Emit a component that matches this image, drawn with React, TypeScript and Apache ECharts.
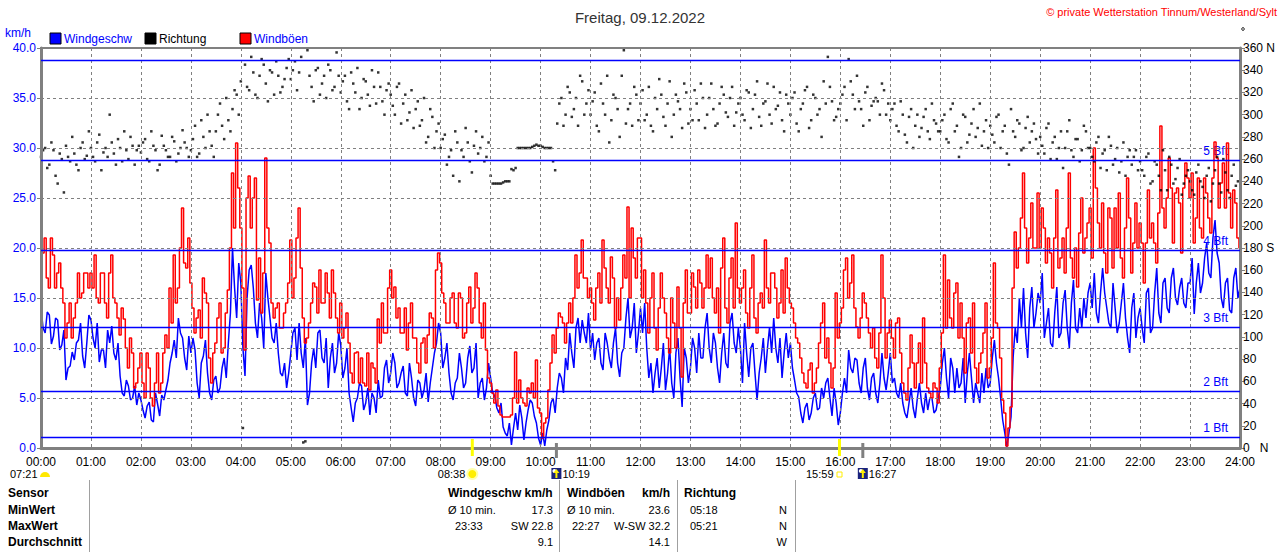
import React, { useEffect, useRef } from "react";
import * as echarts from "echarts";

const FONT = '"Liberation Sans", Arial, Helvetica, sans-serif';
const TITLE = "Freitag, 09.12.2022";
const COPYRIGHT = "© private Wetterstation Tinnum/Westerland/Sylt";
const STEP = 5; // minutes between samples

// Windgeschwindigkeit km/h at hh:00, hh:05, ... (last value = 24:00)
const windSpeed: number[] = [
  14.0, 11.5, 13.3, 11.2, 12.8, 10.3, 6.8, 8.2, 8.8, 10.8, 9.2, 10.5, // 00
  12.8, 10.0, 8.6, 9.8, 11.8, 12.2, 8.8, 7.2, 5.2, 6.2, 5.0, 4.3, // 01
  4.8, 3.0, 4.6, 2.6, 4.4, 5.3, 5.8, 8.5, 10.8, 13.0, 11.0, 7.8, // 02
  9.5, 9.8, 5.0, 9.2, 7.5, 4.8, 7.2, 6.0, 9.0, 10.5, 20.0, 13.0, // 03
  16.5, 7.2, 17.8, 16.0, 11.0, 13.0, 17.5, 13.0, 10.5, 9.5, 7.2, 6.0, // 04
  9.5, 12.0, 12.5, 8.0, 4.3, 8.5, 8.0, 11.8, 8.5, 6.0, 10.5, 8.5, // 05
  10.3, 8.0, 5.5, 2.6, 5.0, 6.2, 4.5, 3.3, 5.0, 6.8, 5.2, 8.8, // 06
  7.5, 8.5, 6.5, 8.2, 5.2, 7.0, 4.2, 6.5, 5.8, 4.6, 8.0, 10.5, // 07
  11.5, 9.0, 7.5, 4.8, 7.0, 8.0, 6.5, 10.2, 8.0, 5.0, 7.0, 6.0, // 08
  7.0, 5.2, 3.5, 2.1, 1.2, 0.3, 3.5, 4.3, 0.8, 3.8, 4.5, 2.5, // 09
  0.3, 0.2, 2.8, 5.0, 6.0, 7.0, 9.0, 11.5, 8.0, 13.0, 12.8, 10.5, // 10
  9.8, 8.8, 11.0, 7.8, 10.5, 8.0, 12.0, 7.1, 10.0, 15.0, 12.0, 9.5, // 11
  14.0, 14.5, 7.0, 5.5, 9.0, 8.0, 5.8, 10.0, 5.0, 11.0, 4.1, 9.0, // 12
  8.0, 10.0, 11.5, 9.0, 13.5, 8.5, 10.5, 6.5, 11.5, 8.0, 13.5, 9.5, // 13
  10.0, 12.5, 7.1, 10.5, 4.8, 9.0, 7.5, 12.1, 13.0, 8.5, 7.0, 11.5, // 14
  10.5, 6.8, 5.1, 2.5, 4.5, 3.5, 5.5, 4.0, 5.0, 7.0, 3.2, 4.5, // 15
  3.5, 7.0, 9.8, 7.5, 8.8, 5.5, 9.0, 4.8, 7.5, 4.5, 9.5, 5.8, // 16
  9.5, 7.0, 5.0, 4.5, 3.0, 6.0, 3.0, 6.5, 3.5, 3.8, 5.0, 3.8, // 17
  6.0, 10.0, 5.0, 8.0, 8.0, 6.5, 4.5, 9.5, 4.5, 5.5, 7.5, 8.0, // 18
  6.5, 10.8, 7.0, 2.8, 0.1, 3.1, 12.0, 15.0, 16.0, 9.0, 16.1, 13.5, // 19
  14.5, 11.0, 14.0, 10.1, 16.1, 11.5, 15.8, 10.0, 16.8, 11.5, 12.0, 13.0, // 20
  16.5, 17.5, 12.5, 18.0, 14.0, 12.0, 14.0, 12.5, 16.5, 11.0, 14.0, 11.0, // 21
  14.0, 10.5, 16.0, 12.0, 18.0, 12.5, 17.0, 13.5, 18.0, 14.3, 17.0, 14.0, // 22
  16.5, 13.4, 18.5, 16.5, 20.5, 17.0, 22.8, 18.5, 14.0, 17.0, 13.5, 18.0, // 23
  16.0,
];

// Windgeschwindigkeit km/h at hh:02.5, hh:07.5, ...
const windSpeedMid: number[] = [
  12.0, 13.6, 10.4, 13.0, 9.8, 11.8, 8.0, 9.6, 10.5, 12.5, 8.0, 13.3, // 00
  11.0, 12.5, 9.8, 8.0, 10.5, 9.5, 10.5, 5.5, 6.8, 4.8, 6.2, 5.5, // 01
  3.8, 4.2, 2.8, 5.5, 3.2, 4.8, 6.8, 9.5, 9.0, 11.5, 9.0, 11.2, // 02
  11.0, 6.5, 8.5, 10.8, 5.5, 6.8, 5.5, 8.0, 7.0, 13.5, 16.0, 18.5, // 03
  10.0, 15.0, 18.3, 12.5, 14.5, 10.0, 15.0, 11.0, 12.5, 7.5, 8.5, 7.5, // 04
  11.5, 8.8, 9.5, 11.0, 5.5, 10.0, 11.5, 9.0, 11.0, 9.0, 7.5, 11.5, // 05
  7.0, 10.0, 4.0, 4.5, 6.5, 3.8, 6.0, 5.5, 3.5, 5.0, 8.0, 6.5, // 06
  9.5, 6.0, 7.5, 5.5, 8.5, 5.0, 6.8, 5.0, 7.5, 6.5, 9.5, 12.5, // 07
  8.0, 10.5, 5.5, 6.5, 9.5, 6.0, 9.0, 7.5, 10.5, 6.5, 4.8, 8.5, // 08
  5.5, 4.0, 4.5, 1.5, 2.5, 2.0, 1.8, 3.0, 2.5, 4.8, 3.2, 1.0, // 09
  1.5, 1.8, 4.5, 3.5, 7.5, 5.5, 7.8, 9.5, 12.0, 10.5, 11.5, 13.5, // 10
  11.5, 10.5, 8.5, 11.5, 9.0, 10.5, 8.5, 9.5, 13.0, 11.0, 14.5, 11.5, // 11
  11.5, 10.0, 8.5, 7.5, 6.0, 10.5, 7.5, 6.5, 9.5, 7.0, 10.0, 6.5, // 12
  11.0, 7.5, 9.0, 12.0, 10.0, 11.5, 8.0, 9.5, 8.5, 12.5, 10.5, 12.0, // 13
  6.5, 9.5, 10.0, 7.5, 7.5, 11.0, 10.0, 9.5, 10.0, 11.0, 9.5, 9.0, // 14
  8.0, 5.5, 3.5, 4.0, 2.8, 5.0, 3.8, 6.0, 6.5, 5.0, 6.0, 2.3, // 15
  5.5, 5.5, 8.0, 9.0, 6.5, 8.0, 6.0, 7.0, 5.5, 6.5, 7.0, 7.5, // 16
  6.5, 5.5, 6.5, 3.5, 4.5, 4.0, 5.0, 4.5, 5.5, 5.0, 3.5, 5.0, // 17
  8.5, 7.0, 9.0, 5.5, 6.0, 9.0, 7.5, 7.0, 6.5, 4.5, 5.5, 6.0, // 18
  9.0, 8.5, 5.0, 1.5, 1.5, 9.0, 10.5, 12.0, 11.5, 14.0, 12.0, 15.5, // 19
  17.5, 12.5, 10.5, 13.5, 11.0, 14.5, 12.0, 14.5, 12.0, 14.0, 15.0, 15.5, // 20
  14.0, 13.5, 15.5, 15.5, 12.5, 16.5, 11.5, 14.5, 13.0, 9.5, 15.5, 13.0, // 21
  12.0, 15.5, 11.5, 15.5, 13.5, 16.5, 14.0, 17.0, 15.0, 16.0, 14.5, 16.5, // 22
  19.0, 16.5, 15.5, 19.0, 17.5, 21.0, 19.5, 15.0, 16.5, 13.8, 17.0, 15.0, // 23
];

// Windböen km/h at hh:00, hh:05, ... (last value = 24:00)
const windGust: number[] = [
  17.5, 21.0, 16.0, 19.3, 17.5, 16.0, 11.0, 14.5, 13.0, 17.5, 15.5, 17.5, // 00
  17.5, 19.3, 14.5, 17.5, 13.0, 19.3, 14.5, 11.3, 12.9, 8.0, 9.5, 6.5, // 01
  9.5, 5.0, 8.0, 4.2, 9.5, 6.5, 11.3, 16.0, 19.3, 16.0, 24.0, 18.0, // 02
  16.5, 11.5, 13.8, 17.0, 14.5, 6.5, 10.5, 14.5, 10.0, 15.8, 27.5, 30.5, // 03
  22.0, 9.8, 27.2, 25.0, 14.8, 13.5, 29.0, 20.5, 13.0, 14.5, 12.0, 14.5, // 04
  20.8, 17.0, 24.0, 13.0, 11.0, 14.5, 16.1, 17.8, 14.5, 15.5, 17.8, 13.0, // 05
  14.5, 12.0, 10.5, 6.5, 9.6, 9.0, 6.2, 5.8, 8.0, 12.9, 14.5, 11.5, // 06
  17.8, 16.1, 14.0, 11.5, 9.8, 14.5, 11.0, 7.5, 11.0, 11.3, 13.0, 17.8, // 07
  18.5, 14.5, 12.5, 15.5, 12.0, 15.0, 11.5, 16.1, 14.0, 16.0, 11.0, 9.8, // 08
  6.5, 4.5, 4.2, 3.1, 3.1, 3.3, 9.6, 6.8, 4.5, 6.0, 6.5, 8.8, // 09
  3.5, 2.5, 5.8, 11.3, 12.0, 13.1, 10.5, 14.5, 15.0, 16.0, 20.8, 17.0, // 10
  16.0, 12.8, 17.5, 20.8, 16.0, 19.1, 12.0, 12.8, 19.3, 24.1, 22.0, 17.0, // 11
  21.0, 17.8, 11.5, 17.5, 9.8, 17.5, 13.5, 9.5, 12.5, 16.1, 7.1, 17.8, // 12
  13.5, 16.1, 17.8, 14.0, 19.3, 19.0, 13.5, 11.5, 21.0, 12.5, 19.0, 22.5, // 13
  14.5, 17.8, 12.0, 19.3, 11.5, 15.5, 20.8, 14.5, 17.5, 13.0, 17.8, 19.0, // 14
  14.5, 12.5, 10.5, 7.5, 6.0, 8.5, 6.5, 10.5, 14.5, 11.0, 6.0, 15.5, // 15
  12.5, 17.8, 15.0, 19.3, 12.1, 13.0, 14.5, 11.5, 12.0, 8.0, 19.3, 9.0, // 16
  12.8, 9.0, 13.0, 6.5, 4.8, 11.3, 6.0, 10.5, 13.0, 6.0, 5.0, 6.0, // 17
  8.0, 19.3, 16.8, 12.0, 16.5, 14.5, 7.5, 13.0, 14.5, 6.5, 9.5, 14.5, // 18
  8.0, 18.5, 12.0, 4.8, 0.2, 4.1, 21.6, 20.0, 27.5, 18.5, 24.5, 20.0, // 19
  20.0, 22.0, 21.0, 16.0, 25.8, 19.0, 17.5, 27.5, 17.0, 16.1, 25.0, 21.0, // 20
  24.0, 30.0, 22.5, 24.5, 17.5, 23.0, 24.0, 25.5, 17.0, 27.0, 17.5, 24.5, // 21
  22.5, 16.5, 25.8, 22.5, 18.5, 32.2, 22.0, 29.0, 20.5, 26.0, 19.5, 28.5, // 22
  25.0, 20.5, 27.0, 21.0, 25.5, 21.5, 30.6, 24.0, 28.5, 30.5, 22.0, 24.5, // 23
  20.0,
];

// Windböen km/h at hh:02.5, hh:07.5, ...
const windGustMid: number[] = [
  19.5, 17.0, 21.0, 16.0, 18.5, 14.5, 12.5, 11.0, 14.5, 15.0, 17.5, 16.0, // 00
  16.0, 15.0, 17.5, 14.5, 17.5, 15.0, 13.0, 14.0, 10.0, 11.0, 6.0, 8.0, // 01
  6.5, 9.5, 5.0, 6.5, 5.5, 9.5, 10.0, 12.5, 14.5, 20.0, 18.5, 21.0, // 02
  14.0, 13.0, 11.0, 15.5, 9.0, 9.5, 13.0, 9.5, 13.5, 20.0, 22.0, 26.0, // 03
  16.0, 25.0, 22.0, 27.0, 19.0, 17.5, 22.0, 14.5, 14.0, 12.0, 13.5, 16.5, // 04
  15.0, 21.0, 18.0, 10.5, 12.5, 16.5, 13.5, 14.5, 17.5, 13.0, 15.5, 11.5, // 05
  11.0, 13.5, 7.5, 9.5, 6.5, 6.5, 9.5, 8.5, 6.5, 10.5, 11.5, 16.0, // 06
  15.0, 13.0, 11.5, 14.0, 12.5, 11.0, 8.5, 10.5, 8.5, 13.5, 10.0, 19.5, // 07
  15.5, 12.5, 15.0, 12.5, 15.5, 11.0, 14.5, 12.5, 17.5, 12.5, 14.5, 7.0, // 08
  5.5, 5.8, 3.3, 3.1, 3.1, 5.0, 4.5, 5.0, 4.2, 5.5, 5.0, 4.0, // 09
  1.0, 3.0, 8.5, 9.5, 13.5, 12.5, 12.5, 12.5, 19.3, 17.5, 17.0, 15.0, // 10
  14.5, 16.0, 14.5, 18.0, 14.5, 17.0, 15.0, 16.0, 17.0, 15.0, 19.0, 21.0, // 11
  15.0, 14.5, 15.0, 12.0, 14.0, 15.0, 11.0, 15.0, 10.0, 12.0, 14.5, 13.5, // 12
  17.5, 14.0, 16.5, 16.0, 16.0, 15.0, 16.0, 18.0, 14.0, 17.0, 14.0, 16.0, // 13
  16.0, 13.5, 16.0, 13.0, 14.5, 14.0, 16.0, 17.5, 16.0, 14.5, 13.5, 16.0, // 14
  14.0, 11.0, 9.0, 6.5, 7.8, 5.5, 8.0, 12.5, 9.0, 8.5, 8.0, 11.0, // 15
  14.0, 19.0, 16.5, 14.0, 11.0, 15.5, 13.0, 10.0, 9.0, 11.5, 15.0, 11.5, // 16
  11.0, 12.5, 9.5, 5.5, 8.0, 8.5, 8.5, 6.5, 8.5, 5.5, 6.5, 4.5, // 17
  11.5, 12.0, 13.0, 15.5, 11.0, 11.0, 12.5, 9.5, 8.0, 8.5, 11.5, 7.0, // 18
  11.0, 12.5, 9.0, 3.5, 2.0, 16.0, 18.0, 23.0, 22.0, 21.0, 20.0, 25.5, // 19
  24.0, 18.5, 19.5, 21.0, 18.0, 21.0, 22.0, 19.0, 20.0, 21.5, 19.5, 22.5, // 20
  19.0, 26.0, 20.0, 19.5, 24.0, 18.0, 20.0, 19.0, 22.0, 23.0, 20.5, 20.0, // 21
  20.5, 20.5, 21.0, 20.5, 23.5, 24.0, 25.0, 26.0, 25.5, 24.5, 26.0, 27.0, // 22
  27.5, 23.0, 22.0, 27.0, 23.0, 27.0, 29.0, 26.5, 24.0, 25.5, 25.8, 21.0, // 23
];

// Richtung in Grad at hh:00, hh:05, ...
const windDir: number[] = [
  262, 270, 255, 268, 238, 260, 272, 258, 265, 250, 275, 263, // 00
  270, 258, 282, 266, 262, 275, 255, 270, 285, 260, 272, 268, // 01
  266, 278, 258, 272, 250, 281, 268, 262, 276, 265, 286, 270, // 02
  268, 290, 265, 280, 300, 272, 285, 310, 278, 295, 305, 318, // 03
  330, 345, 322, 338, 315, 350, 328, 340, 318, 335, 325, 342, // 04
  332, 348, 338, 5, 358, 325, 340, 318, 335, 345, 322, 356, // 05
  320, 335, 305, 328, 342, 315, 330, 308, 325, 338, 312, 322, // 06
  318, 300, 328, 310, 295, 322, 305, 290, 315, 280, 298, 285, // 07
  270, 282, 262, 245, 275, 268, 288, 258, 272, 265, 280, 262, // 08
  245, 238, 238, 239, 240, 251, 252, 270, 270, 270, 271, 273, // 09
  272, 270, 270, 258, 292, 315, 300, 320, 305, 290, 330, 310, // 10
  300, 320, 285, 310, 335, 295, 315, 280, 358, 305, 290, 318, // 11
  310, 295, 325, 285, 305, 318, 290, 330, 300, 312, 288, 320, // 12
  305, 322, 295, 315, 300, 328, 290, 310, 318, 298, 325, 302, // 13
  315, 295, 320, 305, 330, 290, 312, 300, 325, 308, 295, 318, // 14
  300, 320, 285, 310, 325, 295, 315, 305, 330, 352, 312, 298, // 15
  310, 325, 350, 318, 335, 305, 320, 295, 312, 312, 328, 300, // 16
  295, 310, 285, 300, 275, 305, 290, 280, 298, 285, 310, 292, // 17
  285, 300, 275, 310, 290, 270, 298, 282, 305, 288, 272, 295, // 18
  290, 275, 300, 285, 265, 305, 280, 292, 270, 298, 285, 278, // 19
  280, 265, 292, 275, 260, 285, 270, 295, 262, 278, 268, 285, // 20
  270, 258, 280, 265, 250, 272, 260, 248, 275, 262, 255, 268, // 21
  258, 245, 265, 240, 255, 232, 250, 262, 238, 252, 228, 245, // 22
  240, 228, 255, 235, 245, 222, 250, 238, 260, 232, 245, 236, // 23
];

// Richtung in Grad at hh:02.5, hh:07.5, ...
const windDirMid: number[] = [
  268, 252, 275, 245, 265, 230, 262, 280, 255, 270, 260, 285, // 00
  262, 275, 250, 270, 300, 265, 278, 258, 268, 280, 255, 272, // 01
  275, 260, 285, 268, 255, 272, 262, 280, 258, 270, 275, 262, // 02
  278, 262, 295, 270, 285, 262, 300, 290, 315, 285, 322, 300, // 03
  18, 325, 352, 318, 335, 345, 312, 338, 348, 320, 332, 350, // 04
  340, 322, 352, 6, 335, 312, 342, 328, 315, 340, 325, 335, // 05
  330, 312, 338, 320, 305, 332, 318, 340, 310, 325, 300, 328, // 06
  308, 325, 292, 318, 302, 288, 312, 295, 275, 305, 270, 292, // 07
  278, 255, 268, 285, 240, 262, 275, 248, 285, 270, 258, 275, // 08
  238, 238, 238, 240, 240, 250, 270, 270, 270, 270, 272, 272, // 09
  271, 270, 270, 250, 310, 290, 325, 298, 315, 335, 300, 322, // 10
  312, 290, 328, 300, 275, 318, 305, 335, 292, 310, 325, 295, // 11
  322, 300, 290, 315, 332, 298, 310, 280, 318, 305, 328, 292, // 12
  295, 310, 328, 288, 315, 305, 292, 325, 302, 315, 290, 310, // 13
  300, 322, 288, 318, 298, 310, 328, 292, 305, 320, 285, 310, // 14
  315, 292, 305, 322, 288, 318, 300, 280, 310, 325, 295, 305, // 15
  318, 295, 330, 305, 312, 290, 325, 308, 315, 300, 322, 310, // 16
  305, 290, 312, 282, 298, 270, 300, 288, 305, 278, 295, 285, // 17
  295, 278, 305, 285, 262, 300, 275, 292, 280, 310, 285, 270, // 18
  282, 298, 270, 290, 255, 285, 295, 268, 288, 275, 292, 265, // 19
  272, 288, 260, 280, 270, 252, 285, 268, 278, 258, 290, 270, // 20
  262, 275, 252, 268, 280, 255, 270, 258, 245, 268, 262, 250, // 21
  250, 262, 238, 258, 245, 268, 232, 255, 242, 260, 238, 250, // 22
  232, 248, 240, 225, 252, 238, 262, 230, 248, 225, 255, 240, // 23
];

// Beaufort thresholds in km/h
const beaufortLimits = [1.1, 5.7, 12.1, 19.8, 28.8, 38.8];
const beaufortLabels = ["1 Bft", "2 Bft", "3 Bft", "4 Bft", "5 Bft", ""];

const legendNames = ["Windgeschw", "Richtung", "Windböen"];
const legendColors = ["#0000ff", "#000000", "#ff0000"];
const legendTextColors = ["#0000ff", "#000000", "#0000ff"];

const dawnTime = "07:21";
const astroTimes = ["08:38", "10:19", "15:59", "16:27"];
const astroMinutes = [518, 619, 959, 987];
const astroKinds = ["sunrise", "moonset", "sunset", "moonrise"];

const tableRowLabels = ["Sensor", "MinWert", "MaxWert", "Durchschnitt"];
const speedHeader = "Windgeschw km/h";
const speedLeft = ["Ø 10 min.", "23:33", ""];
const speedRight = ["17.3", "SW 22.8", "9.1"];
const gustHeader = "Windböen";
const gustUnit = "km/h";
const gustLeft = ["Ø 10 min.", "22:27", ""];
const gustRight = ["23.6", "W-SW 32.2", "14.1"];
const dirHeader = "Richtung";
const dirLeft = ["05:18", "05:21", ""];
const dirRight = ["N", "N", "W"];

const BLUE = "#0000ff";
const RED = "#ff0000";
const GRAY = "#808080";

function hourLabel(v: number): string {
  const h = Math.round(v / 60);
  return (h < 10 ? "0" : "") + h + ":00";
}

function dirLabel(v: number): string {
  if (v === 360) return "360 N";
  if (v === 180) return "180 S";
  if (v === 0) return "0\u00a0\u00a0\u00a0N";
  return String(v);
}

function interleave(main: number[], mid: number[]): number[][] {
  const out: number[][] = [];
  main.forEach((v, i) => {
    out.push([i * STEP, v]);
    if (i < mid.length) out.push([i * STEP + STEP / 2, mid[i]]);
  });
  return out;
}

function buildOption() {
  const speedData = interleave(windSpeed, windSpeedMid);
  const gustData = interleave(windGust, windGustMid);
  const dirData = interleave(windDir, windDirMid);
  return {
    animation: false,
    backgroundColor: "#ffffff",
    textStyle: { fontFamily: FONT },
    title: {
      text: TITLE,
      left: "center",
      top: 5,
      textStyle: { fontSize: 15, fontWeight: "normal", color: "#333333", fontFamily: FONT },
    },
    grid: {
      left: 41,
      right: 40,
      top: 48,
      bottom: 104,
      show: true,
      borderColor: GRAY,
      borderWidth: 2,
      containLabel: false,
      outerBoundsMode: "none",
    },
    xAxis: {
      type: "value",
      min: 0,
      max: 1440,
      interval: 60,
      z: 6,
      axisLine: { show: true, onZero: false, lineStyle: { color: GRAY, width: 3 } },
      axisTick: { show: false },
      axisLabel: {
        formatter: hourLabel,
        color: "#000000",
        fontSize: 12,
        fontFamily: FONT,
        margin: 8,
        showMinLabel: true,
        showMaxLabel: true,
      },
      splitLine: { show: true, lineStyle: { color: GRAY, width: 1, type: [3, 3] } },
    },
    yAxis: [
      {
        type: "value",
        min: 0,
        max: 40,
        interval: 5,
        z: 6,
        axisLine: { show: true, onZero: false, lineStyle: { color: GRAY, width: 3 } },
        axisTick: { show: true, length: 4, lineStyle: { color: GRAY, width: 1 } },
        axisLabel: {
          formatter: (v: number) => v.toFixed(1),
          color: BLUE,
          fontSize: 12,
          fontFamily: FONT,
          margin: 5,
        },
        splitLine: { show: true, lineStyle: { color: GRAY, width: 1, type: [3, 3] } },
      },
      {
        type: "value",
        position: "right",
        min: 0,
        max: 360,
        interval: 20,
        z: 6,
        axisLine: { show: true, onZero: false, lineStyle: { color: GRAY, width: 3 } },
        axisTick: { show: true, length: 5, lineStyle: { color: GRAY, width: 1 } },
        axisLabel: {
          formatter: dirLabel,
          color: "#000000",
          fontSize: 12,
          fontFamily: FONT,
          margin: 3,
        },
        splitLine: { show: false },
      },
    ],
    series: [
      {
        name: "Windgeschw",
        type: "line",
        data: speedData,
        yAxisIndex: 0,
        showSymbol: false,
        symbol: "none",
        lineStyle: { color: BLUE, width: 1.5 },
        itemStyle: { color: BLUE },
        z: 3,
        silent: true,
      },
      {
        name: "Windböen",
        type: "line",
        step: "middle",
        data: gustData,
        yAxisIndex: 0,
        showSymbol: false,
        symbol: "none",
        lineStyle: { color: RED, width: 1.5 },
        itemStyle: { color: RED },
        z: 4,
        silent: true,
      },
      {
        name: "Richtung",
        type: "scatter",
        data: dirData,
        yAxisIndex: 1,
        symbol: "rect",
        symbolSize: 2.5,
        itemStyle: { color: "#000000" },
        z: 5,
        silent: true,
      },
    ],
  };
}

function txt(
  x: number,
  y: number,
  text: string,
  color = "#000000",
  size = 12,
  bold = false,
  align: "left" | "right" | "center" = "left",
  z = 10
) {
  return {
    type: "text",
    x,
    y,
    silent: true,
    z,
    style: {
      text,
      fill: color,
      font: `${bold ? "bold " : ""}${size}px ${FONT}`,
      align,
      verticalAlign: "middle",
      textAlign: align,
      textVerticalAlign: "middle",
    },
  };
}

function buildGraphics(chart: any) {
  const g: any[] = [];
  const xStart = chart.convertToPixel({ xAxisIndex: 0 }, 0) as number;
  const xEnd = chart.convertToPixel({ xAxisIndex: 0 }, 1440) as number;
  const yBase = chart.convertToPixel({ yAxisIndex: 0 }, 0) as number;

  // Beaufort thresholds: labels beneath the series, lines above
  beaufortLimits.forEach((v, i) => {
    const y = Math.round(chart.convertToPixel({ yAxisIndex: 0 }, v) as number) + 0.5;
    g.push({
      type: "line",
      silent: true,
      z: 8,
      shape: { x1: xStart, y1: y, x2: xEnd, y2: y },
      style: { stroke: BLUE, lineWidth: 1.5 },
    });
    if (beaufortLabels[i]) {
      g.push(txt(xEnd - 12, y - 10, beaufortLabels[i], BLUE, 12, false, "right", 1));
    }
  });

  // axis name
  g.push(txt(5, 33, "km/h", BLUE, 12));
  // legend
  legendNames.forEach((name, i) => {
    const lx = 50 + i * 95;
    g.push({
      type: "rect",
      silent: true,
      z: 10,
      shape: { x: lx, y: 33, width: 11, height: 11 },
      style: { fill: legendColors[i], stroke: "#000000", lineWidth: 1 },
    });
    g.push(txt(lx + 14, 38.5, name, legendTextColors[i], 12));
  });
  // copyright
  g.push(txt(1277, 12, COPYRIGHT, RED, 11, false, "right"));
  g.push({
    type: "circle",
    silent: true,
    shape: { cx: 1243, cy: 29, r: 1.3 },
    style: { fill: "none", stroke: "#000000", lineWidth: 1 },
  });

  // astronomical markers below the time axis
  const labelY = yBase + 26;
  g.push(txt(xStart - 31, labelY, dawnTime, "#000000", 11));
  g.push({
    type: "sector",
    silent: true,
    shape: { cx: xStart + 4, cy: labelY + 3, r: 5, r0: 0, startAngle: Math.PI, endAngle: Math.PI * 2 },
    style: { fill: "#ffe800" },
  });
  astroMinutes.forEach((m, i) => {
    const x = chart.convertToPixel({ xAxisIndex: 0 }, m) as number;
    const kind = astroKinds[i];
    const isSun = kind === "sunrise" || kind === "sunset";
    g.push({
      type: "rect",
      silent: true,
      z: 9,
      shape: isSun
        ? { x: x - 1.5, y: yBase - 9, width: 3, height: 17 }
        : { x: x - 1.5, y: yBase - 5, width: 3, height: 15 },
      style: { fill: isSun ? "#ffff00" : GRAY },
    });
    if (kind === "sunrise") {
      g.push({
        type: "circle",
        silent: true,
        shape: { cx: x, cy: labelY, r: 6 },
        style: { fill: "#ffffaa" },
      });
      g.push({
        type: "circle",
        silent: true,
        shape: { cx: x, cy: labelY, r: 4 },
        style: { fill: "#ffee00" },
      });
      g.push(txt(x - 7, labelY, astroTimes[i], "#000000", 11, false, "right"));
    } else if (kind === "sunset") {
      g.push({
        type: "rect",
        silent: true,
        shape: { x: x - 2.5, y: labelY - 2, width: 5, height: 5 },
        style: { fill: "none", stroke: "#ffee00", lineWidth: 1 },
      });
      g.push(txt(x - 6, labelY, astroTimes[i], "#000000", 11, false, "right"));
    } else {
      g.push({
        type: "rect",
        silent: true,
        shape: { x: x - 5, y: labelY - 6, width: 10, height: 11 },
        style: { fill: "#1a237e" },
      });
      g.push({
        type: "circle",
        silent: true,
        shape: { cx: x - 2, cy: labelY - 3, r: 2 },
        style: { fill: "#ffffff" },
      });
      g.push({
        type: "polyline",
        silent: true,
        shape: { points: [[x, labelY + 4], [x, labelY - 3]] },
        style: { stroke: "#ffee00", lineWidth: 2 },
      });
      g.push({
        type: "polygon",
        silent: true,
        shape: { points: [[x - 3, labelY - 1], [x + 3, labelY - 1], [x, labelY - 5]] },
        style: { fill: "#ffee00" },
      });
      g.push(txt(x + 6, labelY, astroTimes[i], "#000000", 11, false, "left"));
    }
  });

  // summary table
  const rowY = [493, 510, 526, 542];
  [89, 559, 677, 795].forEach((sx) => {
    g.push({
      type: "line",
      silent: true,
      shape: { x1: sx + 0.5, y1: 480, x2: sx + 0.5, y2: 552 },
      style: { stroke: "#a0a0a0", lineWidth: 1 },
    });
  });
  tableRowLabels.forEach((l, i) => g.push(txt(8, rowY[i], l, "#000000", 12, true)));
  g.push(txt(448, rowY[0], speedHeader, "#000000", 12, true));
  g.push(txt(567, rowY[0], gustHeader, "#000000", 12, true));
  g.push(txt(670, rowY[0], gustUnit, "#000000", 12, true, "right"));
  g.push(txt(684, rowY[0], dirHeader, "#000000", 12, true));
  for (let r = 0; r < 3; r++) {
    const y = rowY[r + 1];
    if (speedLeft[r]) g.push(txt(r === 0 ? 448 : 455, y, speedLeft[r], "#000000", 11));
    g.push(txt(553, y, speedRight[r], "#000000", 11, false, "right"));
    if (gustLeft[r]) g.push(txt(r === 0 ? 567 : 572, y, gustLeft[r], "#000000", 11));
    g.push(txt(670, y, gustRight[r], "#000000", 11, false, "right"));
    if (dirLeft[r]) g.push(txt(690, y, dirLeft[r], "#000000", 11));
    g.push(txt(787, y, dirRight[r], "#000000", 11, false, "right"));
  }
  return g;
}

export default function App() {
  const ref = useRef<HTMLDivElement>(null);
  useEffect(() => {
    const el = ref.current;
    if (!el) return;
    const chart = echarts.init(el, null, { renderer: "svg" });
    chart.setOption(buildOption() as any);
    chart.setOption({ graphic: buildGraphics(chart) } as any);
    return () => {
      chart.dispose();
    };
  }, []);
  return (
    <div
      ref={ref}
      style={{ position: "absolute", left: 0, top: 0, width: 1280, height: 552, background: "#ffffff" }}
    />
  );
}
